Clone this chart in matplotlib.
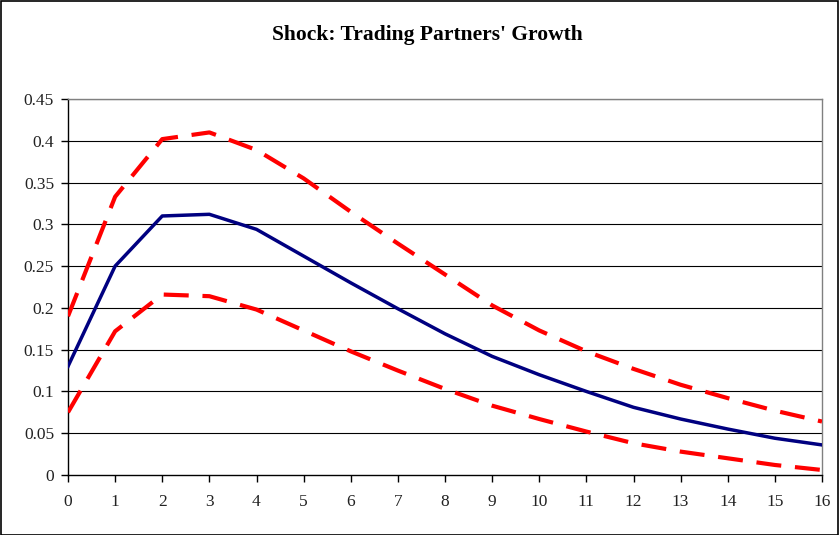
import matplotlib
matplotlib.use("Agg")
import matplotlib.pyplot as plt
from matplotlib.patches import Rectangle

plt.rcParams['font.family'] = ['Liberation Serif', 'DejaVu Serif']

# horizon (quarters) and impulse response bands
periods = list(range(17))
central = [0.13, 0.25, 0.31, 0.312, 0.294, 0.262, 0.23, 0.199, 0.169, 0.142,
           0.12, 0.10, 0.081, 0.067, 0.055, 0.044, 0.036]
upper = [0.19, 0.333, 0.402, 0.41, 0.389, 0.355, 0.315, 0.277, 0.24, 0.203,
         0.173, 0.148, 0.127, 0.108, 0.092, 0.077, 0.064]
lower = [0.075, 0.172, 0.216, 0.214, 0.198, 0.173, 0.148, 0.125, 0.103, 0.083,
         0.067, 0.052, 0.038, 0.028, 0.02, 0.012, 0.006]
yticks = [0, 0.05, 0.1, 0.15, 0.2, 0.25, 0.3, 0.35, 0.4, 0.45]
ylabels = ['0', '0.05', '0.1', '0.15', '0.2', '0.25', '0.3', '0.35', '0.4', '0.45']

fig = plt.figure(figsize=(8.39, 5.35), dpi=100)
W, H = 839, 535
ax = fig.add_axes([68 / W, 1 - 475 / H, (822 - 68) / W, (475 - 99) / H])

# outer frame of the chart
fig.patches.append(Rectangle((0.5 / W, 0.5 / H), 1 - 1.5 / W, 1 - 1.5 / H,
                             transform=fig.transFigure, fill=False,
                             edgecolor='black', linewidth=1.2))

for y in yticks[1:]:
    ax.axhline(y, color='black', linewidth=0.8, zorder=1)

ax.plot(periods, upper, color='#ff0000', linewidth=3, dashes=(6, 3.3), zorder=3)
ax.plot(periods, lower, color='#ff0000', linewidth=3, dashes=(6, 3.3), zorder=3)
ax.plot(periods, central, color='#000080', linewidth=2.5, zorder=4)

ax.set_xlim(0, 16)
ax.set_ylim(0, 0.45)
ax.set_xticks(periods)
ax.set_yticks(yticks)
ax.set_yticklabels(ylabels)
ax.tick_params(direction='out', length=5, width=1, labelsize=12.5, pad=9,
               colors='black', labelcolor='#222222')
ax.tick_params(axis='y', pad=5)

for side in ['top', 'right']:
    ax.spines[side].set_color('#808080')
    ax.spines[side].set_linewidth(1)
for side in ['left', 'bottom']:
    ax.spines[side].set_color('black')
    ax.spines[side].set_linewidth(1)

fig.text(427 / W, 1 - 35 / H, "Shock: Trading Partners' Growth", ha='center',
         va='center', fontsize=15.5, fontweight='bold')

fig.savefig('out.png', dpi=100)
